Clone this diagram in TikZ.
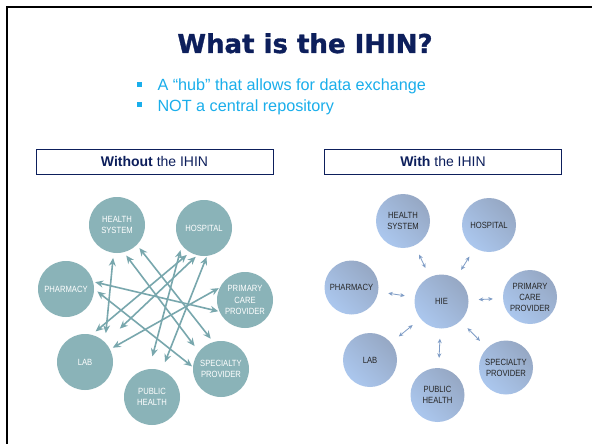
\documentclass[tikz,border=0pt]{standalone}
\usepackage{fontspec}
\usepackage{tikz}
\usetikzlibrary{arrows.meta}
\setmainfont{Liberation Sans}
\newfontfamily\titlefont[FakeBold=1.2]{DejaVu Sans}
\newfontfamily\narrowfont[FakeStretch=0.85]{Liberation Sans}
\definecolor{navy}{HTML}{0D1F5C}
\definecolor{bulletcyan}{HTML}{1AAEEB}
\definecolor{peerteal}{HTML}{8AB3B8}
\definecolor{linkteal}{HTML}{78A7AD}
\definecolor{hubblue}{HTML}{ABC7EE}
\definecolor{hubgray}{HTML}{96A8C4}
\definecolor{hubline}{HTML}{7E9CC6}

\begin{document}
\begin{tikzpicture}[
  x=1pt, y=-1pt,
  peer/.style={circle, fill=peerteal, text=white, minimum size=56pt, inner sep=0pt, align=center,
    font=\narrowfont\fontsize{9}{11.5}\selectfont},
  member/.style={circle, top color=hubgray, bottom color=hubblue, shading angle=-45, text=black!85,
    minimum size=54pt, inner sep=0pt, align=center, font=\narrowfont\fontsize{9}{11}\selectfont},
  link/.style={{Stealth[length=8pt,width=7pt]}-{Stealth[length=8pt,width=7pt]}, draw=linkteal, line width=1.6pt},
  hub/.style={{Stealth[length=4.5pt,width=4pt]}-{Stealth[length=4.5pt,width=4pt]}, draw=hubline, line width=0.8pt,
    shorten <=10pt, shorten >=10pt},
  header/.style={draw=navy, line width=0.8pt, minimum width=237pt, minimum height=25pt, inner sep=0pt,
    text=navy, font=\fontsize{14}{16}\selectfont},
  sq/.style={fill=bulletcyan, minimum size=4.5pt, inner sep=0pt},
  point/.style={anchor=base west, text=bulletcyan, font=\fontsize{16.2}{20}\selectfont}
]
\useasboundingbox[fill=white] (0,0) rectangle (592,444);
% slide frame
\draw[line width=2.5pt] (7,444) -- (7,7) -- (592,7);

\node[anchor=base, text=navy, font=\titlefont\bfseries\fontsize{26}{30}\selectfont] (title) at (305,53) {What is the IHIN?};
\node[sq] (sq1) at (139.5,84.5) {};
\node[point] (pt1) at (154,91) {A “hub” that allows for data exchange};
\node[sq] (sq2) at (139.5,104.5) {};
\node[point] (pt2) at (154,111) {NOT a central repository};

\node[header] (without) at (154.5,161.5) {\textbf{Without} the IHIN};
\node[header] (with) at (443,161.5) {\textbf{With} the IHIN};

% point to point
\node[peer] (hs) at (117,225) {HEALTH\\SYSTEM};
\node[peer] (hosp) at (204,228) {HOSPITAL};
\node[peer] (pharm) at (66,289) {PHARMACY};
\node[peer] (pcp) at (245,300) {PRIMARY\\CARE\\PROVIDER};
\node[peer] (lab) at (85,362) {LAB};
\node[peer] (sp) at (221,369) {SPECIALTY\\PROVIDER};
\node[peer] (ph) at (152,397) {PUBLIC\\HEALTH};
\draw[link, shorten <=5pt, shorten >=9pt] (hs.263) -- (lab.45);
\draw[link, shorten <=4pt, shorten >=7pt] (hs.284) -- (sp.142);
\draw[link, shorten <=4pt, shorten >=4pt] (hs.315) -- (sp.106);
\draw[link, shorten <=5pt, shorten >=13pt] (hosp.218) -- (ph.96);
\draw[link, shorten <=4pt, shorten >=5pt] (hosp.240) -- (lab.76);
\draw[link, shorten <=2pt, shorten >=20pt] (hosp.256) -- (lab.44);
\draw[link, shorten <=1pt, shorten >=9pt] (hosp.276) -- (ph.70);
\draw[link, shorten <=2pt, shorten >=1pt] (pharm.15) -- (pcp.204);
\draw[link, shorten <=4pt, shorten >=1pt] (pharm.0) -- (sp.176);
\draw[link, shorten <=1pt, shorten >=3pt] (pcp.154) -- (lab.27);

% through the exchange
\node[member] (hie) at (441.5,301.5) {HIE};
\node[member] (hs2) at (403,221) {HEALTH\\SYSTEM};
\node[member] (hosp2) at (489,225) {HOSPITAL};
\node[member] (pharm2) at (351.5,287.5) {PHARMACY};
\node[member] (pcp2) at (530,297) {PRIMARY\\CARE\\PROVIDER};
\node[member] (lab2) at (370,360) {LAB};
\node[member] (sp2) at (506,367.5) {SPECIALTY\\PROVIDER};
\node[member] (ph2) at (437.5,395) {PUBLIC\\HEALTH};
\draw[hub] (hs2) -- (hie);
\draw[hub] (hosp2) -- (hie);
\draw[hub] (pharm2) -- (hie);
\draw[hub] (pcp2) -- (hie);
\draw[hub] (lab2) -- (hie);
\draw[hub] (sp2) -- (hie);
\draw[hub] (ph2) -- (hie);
\end{tikzpicture}
\end{document}
